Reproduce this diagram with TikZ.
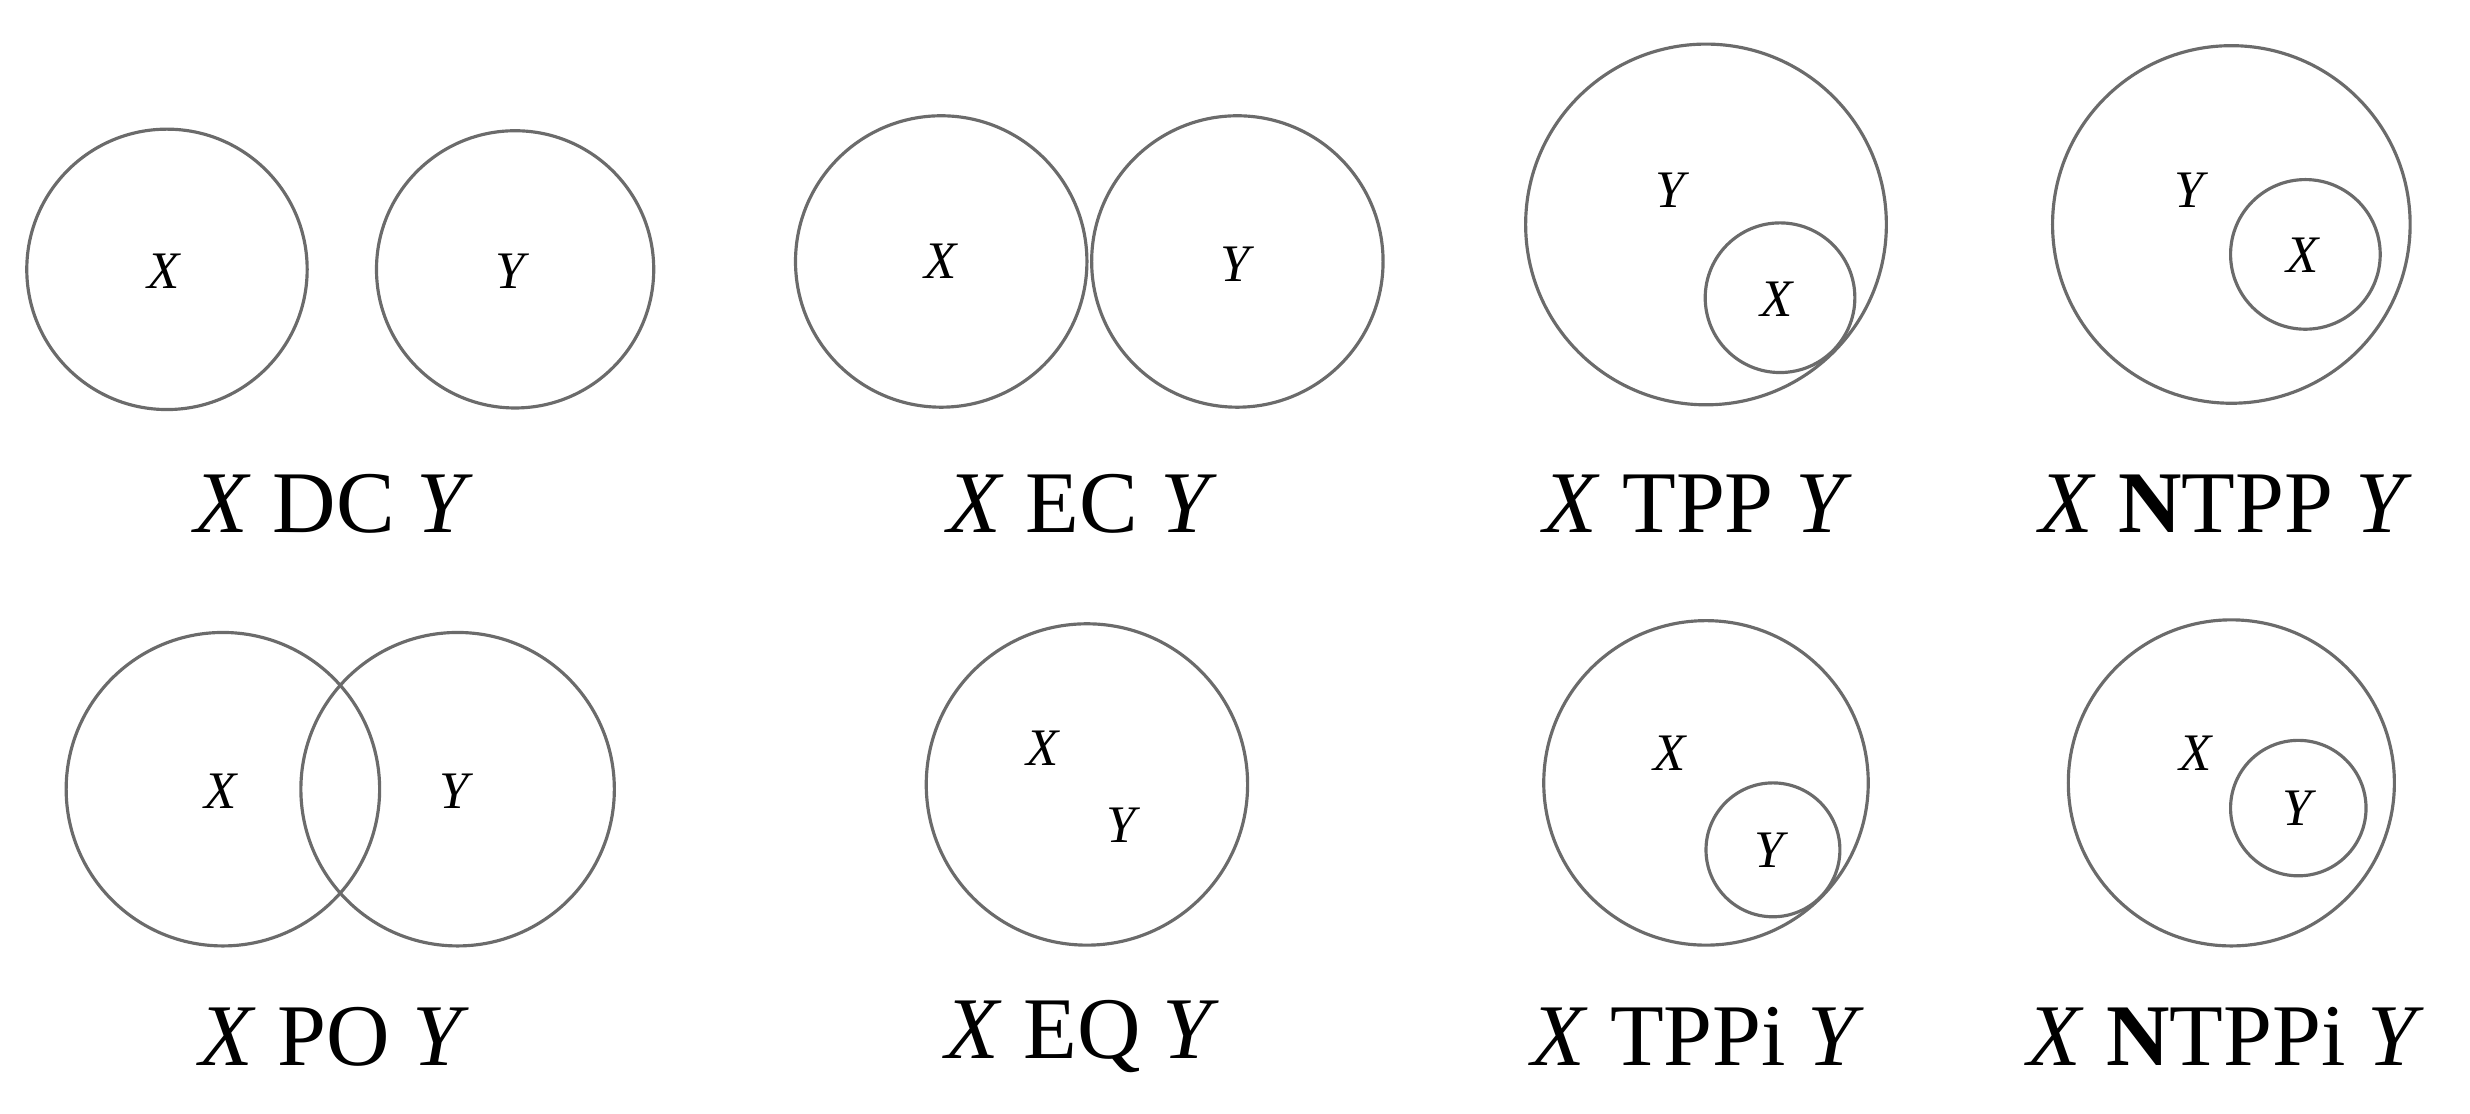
\documentclass[tikz,border=0pt]{standalone}
\usepackage{fontspec}
\setmainfont{Liberation Serif}
\begin{document}
\begin{tikzpicture}[x=0.015753cm,y=-0.015753cm,
  reg/.style={draw=black!58,line width=0.9pt,circle,inner sep=0pt,minimum size=#1},
  inl/.style={font=\fontsize{15}{15}\selectfont\itshape,inner sep=0pt},
  lbl/.style={font=\fontsize{25}{25}\selectfont,inner sep=0pt}]
\useasboundingbox (0,0) rectangle (1568,707);
% DC
\node[reg=178*0.015753cm] (dcx) at (106,171) {};
\node[reg=176*0.015753cm] (dcy) at (327,171) {};
\node[inl] (dcxl) at (104,172) {X};
\node[inl] (dcyl) at (324,172) {Y};
\node[lbl] (dcc) at (212,320) {\textit{X} DC \textit{Y}};
% EC
\node[reg=185*0.015753cm] (ecx) at (597.5,166) {};
\node[reg=185*0.015753cm] (ecy) at (785.5,166) {};
\node[inl] (ecxl) at (597,166) {X};
\node[inl] (ecyl) at (784,168) {Y};
\node[lbl] (ecc) at (687,320) {\textit{X} EC \textit{Y}};
% TPP
\node[reg=229*0.015753cm] (tppy) at (1083,142.5) {};
\node[reg=95*0.015753cm] (tppx) at (1130,189) {};
\node[inl] (tppyl) at (1060,121) {Y};
\node[inl] (tppxl) at (1128,190) {X};
\node[lbl] (tppc) at (1078,320) {\textit{X} TPP \textit{Y}};
% NTPP
\node[reg=227*0.015753cm] (ntppy) at (1416.5,142.5) {};
\node[reg=95*0.015753cm] (ntppx) at (1463.5,161.5) {};
\node[inl] (ntppyl) at (1390,121) {Y};
\node[inl] (ntppxl) at (1462,162) {X};
\node[lbl] (ntppc) at (1413,320) {\textit{X} \textbf{N}TPP \textit{Y}};
% PO
\node[reg=199*0.015753cm] (pox) at (141.5,501) {};
\node[reg=199*0.015753cm] (poy) at (290.5,501) {};
\node[inl] (poxl) at (140,502) {X};
\node[inl] (poyl) at (288,502) {Y};
\node[lbl] (poc) at (212,658) {\textit{X} PO \textit{Y}};
% EQ
\node[reg=204*0.015753cm] (eq) at (690,498) {};
\node[inl] (eqxl) at (662,475) {X};
\node[inl] (eqyl) at (712,524) {Y};
\node[lbl] (eqc) at (687,658) {\textit{X} EQ \textit{Y}};
% TPPi
\node[reg=206*0.015753cm] (tppix) at (1083,497) {};
\node[reg=85*0.015753cm] (tppiy) at (1125.5,539.5) {};
\node[inl] (tppixl) at (1060,478) {X};
\node[inl] (tppiyl) at (1123,540) {Y};
\node[lbl] (tppic) at (1078,658) {\textit{X} TPPi \textit{Y}};
% NTPPi
\node[reg=207*0.015753cm] (ntppix) at (1416.5,497) {};
\node[reg=86*0.015753cm] (ntppiy) at (1459,513) {};
\node[inl] (ntppixl) at (1394,478) {X};
\node[inl] (ntppiyl) at (1458,513) {Y};
\node[lbl] (ntppic) at (1413,658) {\textit{X} \textbf{N}TPPi \textit{Y}};
\end{tikzpicture}
\end{document}
